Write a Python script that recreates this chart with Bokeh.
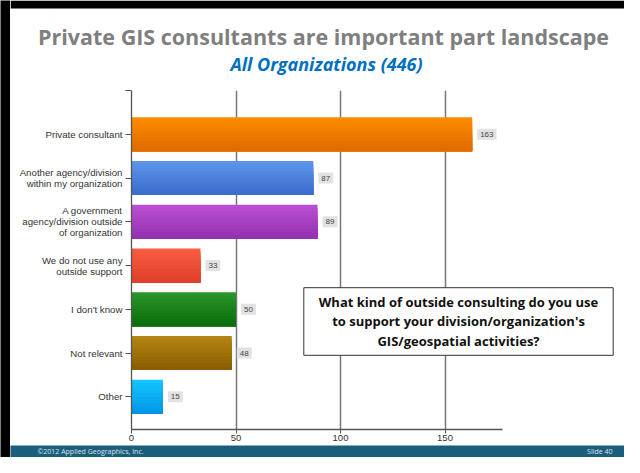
from bokeh.plotting import figure
from bokeh.layouts import row, column
from bokeh.models import ColumnDataSource, Range1d, FixedTicker, Label, BoxAnnotation
from bokeh.core.properties import value
from bokeh.embed import file_html
from bokeh.resources import INLINE

# ---------------- data ----------------
categories = [
    "Private consultant",
    "Another agency/division\nwithin my organization",
    "A government\nagency/division outside\nof organization",
    "We do not use any\noutside support",
    "I don't know",
    "Not relevant",
    "Other",
]
values = [163, 87, 89, 33, 50, 48, 15]
x_ticks = [0, 50, 100, 150]
title_text = "Private GIS consultants are important part landscape"
subtitle_text = "All Organizations (446)"
question_text = ("What kind of outside consulting do you use\n"
                 "to support your division/organization's\n"
                 "GIS/geospatial activities?")
footer_left = "\u00a92012 Applied Geographics, Inc."
footer_right = "Slide 40"

# ---------------- styles ----------------
top_colors = ["#ff8c00", "#5f96ec", "#bc50d4", "#f95d41", "#2a982a", "#b68514", "#14c6ff"]
bot_colors = ["#df6a00", "#3a6bcb", "#9230ae", "#df3f29", "#0a6a0a", "#885c00", "#0094e4"]

STRIP = 10            # black slide edge on the left
W = 624 - STRIP       # width of the slide column
TOP_H = 80            # title block
FT, FB = 10, 16       # borders of main chart above / below the frame
FRAME_H = 339
MAIN_H = FT + FRAME_H + FB
FOOT_H = 457 - TOP_H - MAIN_H
FL = 121              # frame left inside main figure
PX_PER_UNIT = 2.09    # horizontal pixels per value unit
PX_PER_ROW = 43.75    # vertical pixels per category row

def bare(width, height, bg, xr, yr):
    f = figure(width=width, height=height, output_backend="svg", toolbar_location=None,
               title=None, x_axis_type=None, y_axis_type=None,
               x_range=xr, y_range=yr, frame_align=False,
               min_border_left=0, min_border_right=0, min_border_top=0, min_border_bottom=0)
    f.outline_line_color = None
    f.background_fill_color = bg
    f.border_fill_color = bg
    f.grid.visible = False
    return f

# ---------------- left slide edge ----------------
strip = bare(STRIP, 457, "black", Range1d(0, 1), Range1d(0, 1))

# ---------------- title block ----------------
top = bare(W, TOP_H, "white", Range1d(0, W), Range1d(TOP_H, 0))
top.add_layout(BoxAnnotation(left=0, right=W, top=0, bottom=8,
                             fill_color="black", fill_alpha=1, line_color=None))
top.add_layout(Label(x=313, y=36, text=title_text, text_font="Open Sans",
                     text_font_style="bold", text_font_size="21.5px",
                     text_color="#7f7f7f", text_align="center",
                     text_baseline="alphabetic"))
top.add_layout(Label(x=316, y=63, text=subtitle_text, text_font="Open Sans",
                     text_font_style="bold italic", text_font_size="18px",
                     text_color="#0070c0", text_align="center",
                     text_baseline="alphabetic"))

# ---------------- main chart ----------------
x_end = (W - FL) / PX_PER_UNIT
x_axis_end = 371 / PX_PER_UNIT
y_end = FRAME_H / PX_PER_ROW
n = len(categories)
p = figure(width=W, height=MAIN_H, output_backend="svg", toolbar_location=None,
           title=None, frame_align=False,
           x_range=Range1d(0, x_end), y_range=Range1d(y_end, 0),
           min_border_left=FL, min_border_right=0,
           min_border_top=FT, min_border_bottom=FB)
p.outline_line_color = None
p.background_fill_color = "white"
p.border_fill_color = "white"

pos = list(range(1, n + 1))

def hexmix(a, b, t):
    a = [int(a[i:i + 2], 16) for i in (1, 3, 5)]
    b = [int(b[i:i + 2], 16) for i in (1, 3, 5)]
    c = [round(a[k] + (b[k] - a[k]) * t) for k in range(3)]
    return "#%02x%02x%02x" % tuple(c)

# bars with a vertical gradient: overlapping layers, each reaching the bar bottom
bar_h = 0.78
n_sl = 10
for s in range(n_sl):
    frac = s / n_sl
    hh = bar_h * (1 - frac)
    src = ColumnDataSource(dict(
        y=[v + bar_h * frac / 2 for v in pos], right=values,
        c=[hexmix(a, b, (s + 0.5) / n_sl) for a, b in zip(top_colors, bot_colors)]))
    p.hbar(y="y", left=0, right="right", height=hh,
           fill_color="c", line_color=None, source=src)

# value labels
lab_src = ColumnDataSource(dict(x=values, y=pos, t=[str(v) for v in values]))
p.text(x="x", y="y", text="t", source=lab_src, x_offset=5,
       text_baseline="middle", text_align="left",
       text_font=value("Liberation Sans"), text_font_size="8px",
       text_color="#444444", background_fill_color="#e2e2e2",
       padding=3)

# axes
p.xaxis.ticker = FixedTicker(ticks=x_ticks)
p.xaxis.bounds = (0, x_axis_end)
p.yaxis.ticker = FixedTicker(ticks=[0] + pos)
ov = {i: c for i, c in zip(pos, categories)}
ov[0] = ""
p.yaxis.major_label_overrides = ov
for ax in (p.xaxis, p.yaxis):
    ax.axis_line_color = "#555555"
    ax.axis_line_width = 1.3
    ax.major_tick_line_color = "#555555"
    ax.major_tick_in = 0
    ax.minor_tick_line_color = None
    ax.major_label_text_color = "#333333"
    ax.major_label_text_font = "Liberation Sans"
p.xaxis.major_tick_out = 4
p.xaxis.major_label_standoff = 1
p.xaxis.major_label_text_font_size = "9.5px"
p.yaxis.major_tick_out = 6
p.yaxis.major_label_standoff = 3
p.yaxis.major_label_text_font_size = "9.7px"
p.yaxis.major_label_text_line_height = 1.0

p.ygrid.visible = False
p.xgrid.ticker = FixedTicker(ticks=x_ticks[1:])
p.xgrid.grid_line_color = "#777777"
p.xgrid.grid_line_width = 1.5

# question box (inside the frame)
qx = (448 - FL) / PX_PER_UNIT
qy = (321 - 90) / PX_PER_ROW
p.add_layout(Label(x=qx, y=qy, text=question_text, text_font="Open Sans",
                   text_font_style="bold", text_font_size="13px",
                   text_color="#111111", text_align="center", text_baseline="middle",
                   text_line_height=1.1,
                   background_fill_color="white", background_fill_alpha=1,
                   border_line_color="#333333", border_line_width=1,
                   padding=(15, 5)))

# ---------------- footer ----------------
foot = bare(W, FOOT_H, "#1b5e7b", Range1d(0, W), Range1d(FOOT_H, 0))
foot.add_layout(Label(x=27, y=FOOT_H / 2, text=footer_left, text_font="Open Sans",
                      text_font_size="7px", text_color="#d8e4ea",
                      text_baseline="middle", text_align="left"))
foot.add_layout(Label(x=602, y=FOOT_H / 2, text=footer_right, text_font="Open Sans",
                      text_font_size="7px", text_color="#d8e4ea",
                      text_baseline="middle", text_align="right"))

layout = row(strip, column(top, p, foot, spacing=0), spacing=0)
open("out.html", "w").write(file_html(layout, INLINE))
